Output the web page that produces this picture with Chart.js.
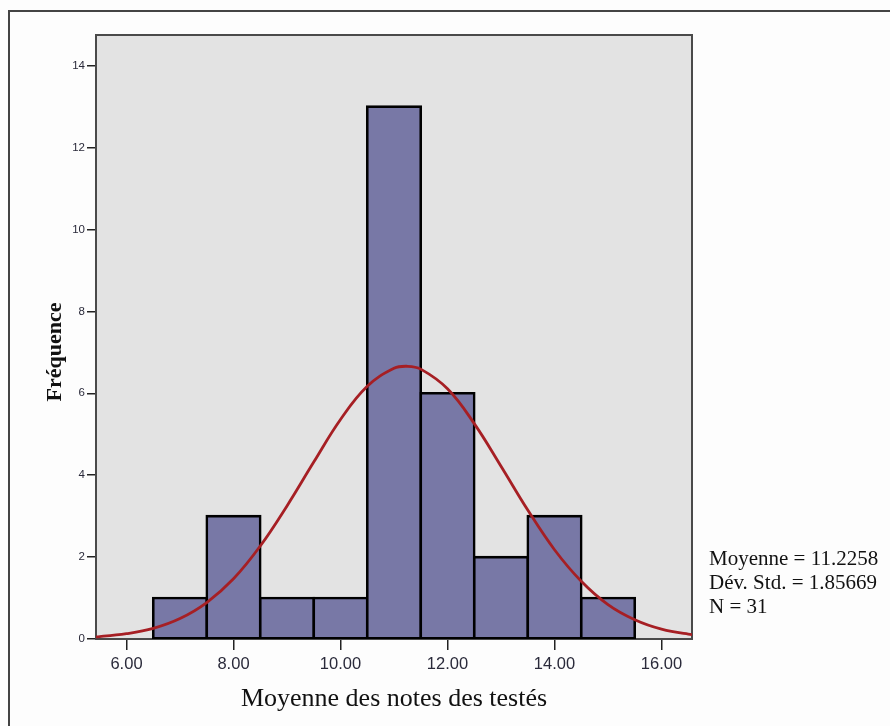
<!DOCTYPE html>
<html>
<head>
<meta charset="utf-8">
<script src="https://cdn.jsdelivr.net/npm/chart.js@4/dist/chart.umd.min.js"></script>
<style>
  html, body { margin: 0; padding: 0; background: #fdfdfd; }
  #wrap { position: relative; width: 890px; height: 726px; overflow: hidden; }
  #frame { position: absolute; left: 8px; top: 10px; width: 1000px; height: 900px; border: 2px solid #444; box-sizing: border-box; pointer-events: none; }
  #stats { position: absolute; left: 709px; top: 546px; font-family: "Liberation Serif", "Times New Roman", serif; font-size: 21px; line-height: 24px; color: #111; white-space: pre; }
  canvas { position: absolute; left: 0; top: 0; }
</style>
</head>
<body>
<div id="wrap">
  <canvas id="c" width="890" height="726"></canvas>
  <div id="frame"></div>
  <div id="stats"></div>
</div>
<script>
// ---- data ----
const binCenters = [7, 8, 9, 10, 11, 12, 13, 14, 15];
const binCounts  = [1, 3, 1, 1, 13, 6, 2, 3, 1];
const curveX = [5.0, 5.5, 6.0, 6.5, 7.0, 7.5, 8.0, 8.5, 9.0, 9.5, 10.0, 10.5, 11.0, 11.25, 11.5, 12.0, 12.5, 13.0, 13.5, 14.0, 14.5, 15.0, 15.5, 16.0, 16.5, 17.0];
const curveY = [0.02, 0.06, 0.13, 0.26, 0.50, 0.89, 1.47, 2.27, 3.25, 4.32, 5.36, 6.17, 6.61, 6.66, 6.59, 6.11, 5.26, 4.22, 3.15, 2.18, 1.41, 0.84, 0.47, 0.24, 0.12, 0.05];
const xTickValues = [6, 8, 10, 12, 14, 16];
const yTickValues = [0, 2, 4, 6, 8, 10, 12, 14];
const statMean = "11.2258";
const statSD = "1.85669";
const statN = "31";
const xTitle = "Moyenne des notes des testés";
const yTitle = "Fréquence";

document.getElementById('stats').textContent =
  "Moyenne = " + statMean + "\nDév. Std. = " + statSD + "\nN = " + statN;

const plotBg = {
  id: 'plotBg',
  beforeDraw(chart) {
    const {ctx, chartArea: a} = chart;
    ctx.save();
    ctx.fillStyle = '#e3e3e3';
    ctx.fillRect(a.left, a.top, a.right - a.left, a.bottom - a.top);
    ctx.restore();
  },
  beforeDatasetsDraw(chart) {
    const {ctx, chartArea: a} = chart;
    ctx.save();
    ctx.strokeStyle = '#4a4a4a';
    ctx.lineWidth = 2;
    ctx.strokeRect(a.left, a.top, a.right - a.left, a.bottom - a.top);
    ctx.restore();
  },
  afterDraw(chart) {
    const {ctx, chartArea: a} = chart;
    ctx.save();
    ctx.translate(55, (a.top + a.bottom) / 2 + 15);
    ctx.rotate(-Math.PI / 2);
    ctx.font = 'bold 22px "Liberation Serif", "Times New Roman", serif';
    ctx.fillStyle = '#111';
    ctx.textAlign = 'center';
    ctx.textBaseline = 'middle';
    ctx.fillText(yTitle, 0, 0);
    ctx.restore();
  }
};

new Chart(document.getElementById('c'), {
  type: 'bar',
  data: {
    datasets: [
      {
        type: 'line',
        order: 0,
        data: curveX.map((x, i) => ({x: x, y: curveY[i]})),
        borderColor: '#a61f24',
        borderWidth: 2.8,
        pointRadius: 0,
        tension: 0.4,
        fill: false
      },
      {
        type: 'bar',
        order: 1,
        data: binCenters.map((x, i) => ({x: x, y: binCounts[i]})),
        backgroundColor: '#7878a6',
        borderColor: '#000',
        borderWidth: 2.6,
        borderSkipped: false,
        inflateAmount: 1.3,
        barPercentage: 1,
        categoryPercentage: 1
      }
    ]
  },
  options: {
    responsive: false,
    animation: false,
    events: [],
    layout: { padding: { top: 35, right: 198, left: 0, bottom: 0 } },
    plugins: { legend: { display: false }, tooltip: { enabled: false } },
    scales: {
      x: {
        type: 'linear',
        min: 5.43,
        max: 16.57,
        offset: false,
        afterFit(s) { s.height = 87; },
        afterBuildTicks(s) { s.ticks = xTickValues.map(v => ({value: v})); },
        grid: { display: true, offset: false, drawOnChartArea: false, drawTicks: true, tickLength: 11, color: '#222', lineWidth: 1.5 },
        border: { display: false },
        ticks: {
          padding: 5,
          color: '#2a2a3a',
          font: { family: '"Liberation Sans", Arial, sans-serif', size: 16.5 },
          callback: v => Number(v).toFixed(2),
          maxRotation: 0
        },
        title: {
          display: true,
          text: xTitle,
          color: '#111',
          font: { family: '"Liberation Serif", "Times New Roman", serif', size: 26 },
          padding: { top: 0, bottom: 11 }
        }
      },
      y: {
        min: 0,
        max: 14.75,
        afterFit(s) { s.width = 96; },
        afterBuildTicks(s) { s.ticks = yTickValues.map(v => ({value: v})); },
        grid: { display: true, drawOnChartArea: false, drawTicks: true, tickLength: 9, color: '#222', lineWidth: 1.5 },
        border: { display: false },
        ticks: {
          padding: 2,
          color: '#2a2a3a',
          font: { family: '"Liberation Sans", Arial, sans-serif', size: 11.5 }
        }
      }
    }
  },
  plugins: [plotBg]
});
</script>
</body>
</html>
